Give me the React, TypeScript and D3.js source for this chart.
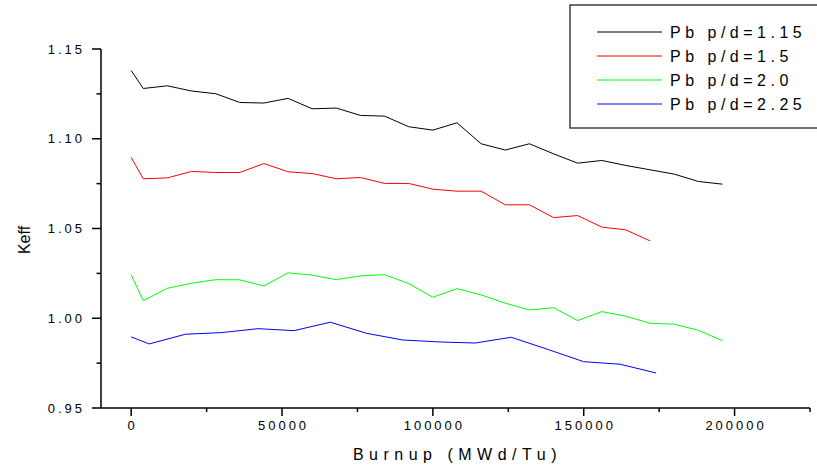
import React from "react";
import * as d3 from "d3";

const xBlackGreen = [0, 4000, 12000, 20000, 28000, 36000, 44000, 52000, 60000, 68000, 76000, 84000, 92000, 100000, 108000, 116000, 124000, 132000, 140000, 148000, 156000, 164000, 172000, 180000, 188000, 196000];
const xRed = [0, 4000, 12000, 20000, 28000, 36000, 44000, 52000, 60000, 68000, 76000, 84000, 92000, 100000, 108000, 116000, 124000, 132000, 140000, 148000, 156000, 164000, 172000];
const xBlue = [0, 6000, 18000, 30000, 42000, 54000, 66000, 78000, 90000, 102000, 114000, 126000, 138000, 150000, 162000, 174000];

const pd115 = [1.138, 1.128, 1.1295, 1.1266, 1.1251, 1.1202, 1.1199, 1.1225, 1.1167, 1.1171, 1.113, 1.1126, 1.1067, 1.1048, 1.1089, 1.0972, 1.0937, 1.0972, 1.0916, 1.0864, 1.0879, 1.0851, 1.0827, 1.0803, 1.0762, 1.0747];
const pd15 = [1.0896, 1.0777, 1.0782, 1.0818, 1.0812, 1.0812, 1.0862, 1.0816, 1.0806, 1.0777, 1.0784, 1.0751, 1.0751, 1.0719, 1.0708, 1.0708, 1.0632, 1.0632, 1.0561, 1.0572, 1.0508, 1.0492, 1.0431];
const pd20 = [1.0242, 1.0098, 1.0167, 1.0195, 1.0215, 1.0214, 1.018, 1.0253, 1.024, 1.0215, 1.0236, 1.0243, 1.0193, 1.0117, 1.0165, 1.013, 1.0084, 1.0046, 1.0059, 0.9987, 1.0037, 1.0011, 0.9972, 0.9967, 0.9933, 0.9875];
const pd225 = [0.9896, 0.9857, 0.9911, 0.992, 0.9942, 0.9931, 0.9978, 0.9916, 0.9879, 0.9868, 0.9862, 0.9894, 0.9827, 0.9758, 0.9744, 0.9695];

const seriesNames = ["Pb p/d=1.15", "Pb p/d=1.5", "Pb p/d=2.0", "Pb p/d=2.25"];
const seriesColors = ["#000000", "#ff0000", "#00ff00", "#0000ff"];

const xMajorTicks = [0, 50000, 100000, 150000, 200000];
const xMinorTicks = [25000, 75000, 125000, 175000, 225000];
const yMajorTicks = [0.95, 1.0, 1.05, 1.1, 1.15];
const yMinorTicks = [0.975, 1.025, 1.075, 1.125];

const FONT = "'Liberation Sans', Arial, sans-serif";

export default function App() {
  const x = d3.scaleLinear().domain([-10000, 225000]).range([101, 810]);
  const y = d3.scaleLinear().domain([0.95, 1.15]).range([408, 49]);

  const series = [
    { xs: xBlackGreen, ys: pd115 },
    { xs: xRed, ys: pd15 },
    { xs: xBlackGreen, ys: pd20 },
    { xs: xBlue, ys: pd225 },
  ];

  const line = d3
    .line<[number, number]>()
    .x((d) => x(d[0]))
    .y((d) => y(d[1]));

  const [x0, x1] = x.range();
  const [y0, y1] = y.range();

  return (
    <svg
      width={817}
      height={465}
      style={{ position: "absolute", left: 0, top: 0, background: "#fff" }}
      fontFamily={FONT}
    >
      <rect x={0} y={0} width={817} height={465} fill="#fff" />
      {/* series */}
      {series.map((s, i) => (
        <path
          key={i}
          d={line(s.xs.map((v, j) => [v, s.ys[j]] as [number, number])) || ""}
          fill="none"
          stroke={seriesColors[i]}
          strokeWidth={1}
        />
      ))}
      {/* axes */}
      <line x1={x0} x2={x1} y1={y0} y2={y0} stroke="#000" strokeWidth={1.5} />
      <line x1={x0} x2={x0} y1={y0} y2={y1} stroke="#000" strokeWidth={1.5} />
      {xMajorTicks.map((t) => (
        <g key={"xm" + t}>
          <line x1={x(t)} x2={x(t)} y1={y0} y2={y0 + 8} stroke="#000" strokeWidth={1.5} />
          <text
            x={x(t) + 1.5}
            y={430}
            textAnchor="middle"
            fontSize={13}
            letterSpacing={3}
            fill="#000"
          >
            {String(t)}
          </text>
        </g>
      ))}
      {xMinorTicks.map((t) => (
        <line key={"xn" + t} x1={x(t)} x2={x(t)} y1={y0} y2={y0 + 4} stroke="#000" strokeWidth={1.5} />
      ))}
      {yMajorTicks.map((t) => (
        <g key={"ym" + t}>
          <line x1={x0 - 9} x2={x0} y1={y(t)} y2={y(t)} stroke="#000" strokeWidth={1.5} />
          <text
            x={85}
            y={y(t) + 4.5}
            textAnchor="end"
            fontSize={13}
            letterSpacing={3}
            fill="#000"
          >
            {t.toFixed(2)}
          </text>
        </g>
      ))}
      {yMinorTicks.map((t) => (
        <line key={"yn" + t} x1={x0 - 4.5} x2={x0} y1={y(t)} y2={y(t)} stroke="#000" strokeWidth={1.5} />
      ))}
      {/* axis titles */}
      <text
        x={454.7 + 2.75}
        y={460}
        textAnchor="middle"
        fontSize={16}
        letterSpacing={5.5}
        fill="#000"
      >
        Burnup (MWd/Tu)
      </text>
      <text
        transform="translate(30,240) rotate(-90)"
        textAnchor="middle"
        fontSize={16}
        fill="#000"
      >
        Keff
      </text>
      {/* legend */}
      <rect x={570} y={5} width={260} height={123} fill="#fff" stroke="#222" strokeWidth={1.3} />
      {seriesNames.map((name, i) => {
        const ly = 32 + i * 24;
        return (
          <g key={"lg" + i}>
            <line x1={597} x2={662} y1={ly} y2={ly} stroke={seriesColors[i]} strokeWidth={1} />
            <text x={670} y={ly + 6} fontSize={16} letterSpacing={4.5} fill="#000">
              {name}
            </text>
          </g>
        );
      })}
    </svg>
  );
}
